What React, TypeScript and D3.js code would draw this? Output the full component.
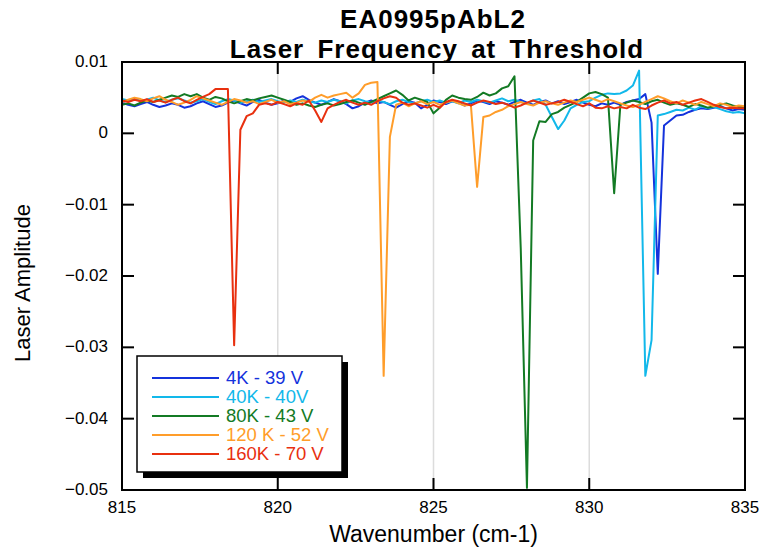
import React from "react";
import * as d3 from "d3";

const xStart = 815;
const xStep = 0.2;

const seriesNames = ["4K - 39 V", "40K - 40V", "80K - 43 V", "120 K - 52 V", "160K - 70 V"];
const seriesColors = ["#1432dc", "#12b8ea", "#137a24", "#ff9d2a", "#e8300f"];

const blue4K = [
  0.0043, 0.0040, 0.0038, 0.0041, 0.0044, 0.0040, 0.0037, 0.0039, 0.0042, 0.0040,
  0.0036, 0.0038, 0.0042, 0.0045, 0.0041, 0.0037, 0.0039, 0.0043, 0.0046, 0.0042,
  0.0039, 0.0044, 0.0047, 0.0043, 0.0040, 0.0042, 0.0046, 0.0044, 0.0049, 0.0052,
  0.0047, 0.0043, 0.0040, 0.0044, 0.0048, 0.0045, 0.0041, 0.0035, 0.0038, 0.0043,
  0.0046, 0.0042, 0.0044, 0.0040, 0.0036, 0.0041, 0.0045, 0.0043, 0.0035, 0.0040,
  0.0046, 0.0044, 0.0041, 0.0045, 0.0043, 0.0039, 0.0042, 0.0046, 0.0044, 0.0041,
  0.0045, 0.0043, 0.0040, 0.0044, 0.0047, 0.0043, 0.0040, 0.0044, 0.0046, 0.0042,
  0.0045, 0.0041, 0.0044, 0.0047, 0.0043, 0.0040, 0.0038, 0.0042, 0.0040, 0.0043,
  0.0040, 0.0044, 0.0046, 0.0048, 0.0055, 0.0015, -0.0197, 0.0011, 0.0018, 0.0025,
  0.0026, 0.0030, 0.0033, 0.0035, 0.0034, 0.0036, 0.0038, 0.0035, 0.0032, 0.0034,
  0.0033,
];

const cyan40K = [
  0.0048, 0.0046, 0.0049, 0.0045, 0.0047, 0.0050, 0.0046, 0.0044, 0.0047, 0.0049,
  0.0046, 0.0043, 0.0045, 0.0048, 0.0044, 0.0041, 0.0045, 0.0048, 0.0046, 0.0043,
  0.0045, 0.0047, 0.0044, 0.0046, 0.0048, 0.0045, 0.0043, 0.0046, 0.0044, 0.0047,
  0.0045, 0.0043, 0.0046, 0.0044, 0.0047, 0.0045, 0.0042, 0.0046, 0.0048, 0.0045,
  0.0043, 0.0046, 0.0044, 0.0041, 0.0045, 0.0047, 0.0044, 0.0042, 0.0045, 0.0047,
  0.0044, 0.0046, 0.0043, 0.0045, 0.0042, 0.0046, 0.0044, 0.0047, 0.0045, 0.0043,
  0.0046, 0.0049, 0.0045, 0.0047, 0.0044, 0.0042, 0.0046, 0.0048, 0.0040, 0.0023,
  0.0006, 0.0018, 0.0035, 0.0040, 0.0044, 0.0045, 0.0050, 0.0054, 0.0056, 0.0055,
  0.0056, 0.0060, 0.0067, 0.0088, -0.0340, -0.0290, 0.0025, 0.0027, 0.0030, 0.0033,
  0.0032, 0.0036, 0.0033, 0.0038, 0.0035, 0.0037, 0.0034, 0.0031, 0.0029, 0.0030,
  0.0028,
];

const green80K = [
  0.0040, 0.0042, 0.0039, 0.0043, 0.0046, 0.0044, 0.0047, 0.0050, 0.0053, 0.0051,
  0.0055, 0.0052, 0.0055, 0.0050, 0.0047, 0.0051, 0.0049, 0.0045, 0.0042, 0.0045,
  0.0048, 0.0046, 0.0049, 0.0051, 0.0053, 0.0050, 0.0047, 0.0044, 0.0040, 0.0042,
  0.0039, 0.0037, 0.0040, 0.0042, 0.0039, 0.0041, 0.0044, 0.0046, 0.0043, 0.0040,
  0.0044, 0.0048, 0.0052, 0.0056, 0.0060, 0.0054, 0.0046, 0.0050, 0.0047, 0.0044,
  0.0028, 0.0036, 0.0047, 0.0053, 0.0050, 0.0048, 0.0047, 0.0051, 0.0057, 0.0053,
  0.0056, 0.0063, 0.0066, 0.0080, -0.0160, -0.0497, -0.0010, 0.0017, 0.0016, 0.0027,
  0.0030, 0.0036, 0.0040, 0.0044, 0.0050, 0.0056, 0.0058, 0.0055, 0.0050, -0.0084,
  0.0040, 0.0043, 0.0046, 0.0044, 0.0041, 0.0045, 0.0047, 0.0043, 0.0040, 0.0042,
  0.0040, 0.0037, 0.0041, 0.0039, 0.0036, 0.0038, 0.0040, 0.0042, 0.0039, 0.0037,
  0.0037,
];

const orange120K = [
  0.0044, 0.0047, 0.0050, 0.0048, 0.0045, 0.0049, 0.0052, 0.0047, 0.0044, 0.0040,
  0.0043, 0.0047, 0.0052, 0.0049, 0.0046, 0.0043, 0.0040, 0.0044, 0.0048, 0.0046,
  0.0043, 0.0045, 0.0041, 0.0044, 0.0047, 0.0043, 0.0045, 0.0041, 0.0043, 0.0046,
  0.0044, 0.0050, 0.0054, 0.0050, 0.0053, 0.0055, 0.0057, 0.0050, 0.0056, 0.0068,
  0.0071, 0.0072, -0.0340, -0.0005, 0.0040, 0.0043, 0.0038, 0.0042, 0.0045, 0.0041,
  0.0044, 0.0040, 0.0043, 0.0046, 0.0042, 0.0039, 0.0040, -0.0075, 0.0023, 0.0025,
  0.0030, 0.0033, 0.0038, 0.0041, 0.0044, 0.0041, 0.0039, 0.0043, 0.0045, 0.0042,
  0.0040, 0.0043, 0.0046, 0.0044, 0.0047, 0.0050, 0.0047, 0.0044, 0.0048, 0.0045,
  0.0042, 0.0039, 0.0037, 0.0040, 0.0044, 0.0048, 0.0052, 0.0049, 0.0045, 0.0042,
  0.0046, 0.0043, 0.0040, 0.0044, 0.0041, 0.0038, 0.0042, 0.0040, 0.0037, 0.0039,
  0.0038,
];

const red160K = [
  0.0046, 0.0044, 0.0047, 0.0045, 0.0048, 0.0044, 0.0046, 0.0043, 0.0047, 0.0050,
  0.0045, 0.0042, 0.0047, 0.0051, 0.0055, 0.0062, 0.0062, 0.0062, -0.0297, 0.0005,
  0.0024, 0.0028, 0.0040, 0.0042, 0.0040, 0.0044, 0.0041, 0.0038, 0.0042, 0.0040,
  0.0046, 0.0032, 0.0016, 0.0035, 0.0040, 0.0044, 0.0047, 0.0043, 0.0040, 0.0043,
  0.0040, 0.0045, 0.0049, 0.0052, 0.0050, 0.0043, 0.0040, 0.0042, 0.0039, 0.0036,
  0.0040, 0.0036, 0.0044, 0.0047, 0.0045, 0.0042, 0.0039, 0.0043, 0.0046, 0.0044,
  0.0041, 0.0043, 0.0040, 0.0036, 0.0039, 0.0043, 0.0046, 0.0043, 0.0040, 0.0042,
  0.0044, 0.0047, 0.0044, 0.0041, 0.0038, 0.0042, 0.0036, 0.0035, 0.0038, 0.0035,
  0.0037, 0.0035, 0.0040, 0.0036, 0.0034, 0.0039, 0.0043, 0.0046, 0.0042, 0.0044,
  0.0040, 0.0043, 0.0046, 0.0048, 0.0044, 0.0040, 0.0037, 0.0035, 0.0036, 0.0035,
  0.0035,
];

const seriesValues = [blue4K, cyan40K, green80K, orange120K, red160K];

const xTicks = [815, 820, 825, 830, 835];
const yTicks = [0.01, 0, -0.01, -0.02, -0.03, -0.04, -0.05];
const gridX = [820, 825, 830];

const titleLines = ["EA0995pAbL2", "Laser Frequency at Threshold"];
const xLabel = "Wavenumber (cm-1)";
const yLabel = "Laser Amplitude";

const W = 761;
const H = 550;
const M = { left: 122, right: 745, top: 62, bottom: 490 };
const FONT = "'Liberation Sans', Arial, Helvetica, sans-serif";

export default function App() {
  const x = d3.scaleLinear().domain([815, 835]).range([M.left, M.right]);
  const y = d3.scaleLinear().domain([-0.05, 0.01]).range([M.bottom, M.top]);
  const line = d3
    .line<number>()
    .x((_, i) => x(xStart + i * xStep))
    .y((d) => y(d));
  const tick = 12;
  const lg = { x: 137, y: 356, w: 205, h: 116 };

  return (
    <svg width={W} height={H} style={{ position: "absolute", left: 0, top: 0, background: "#fff" }} fontFamily={FONT}>
      <rect x={0} y={0} width={W} height={H} fill="#fff" />
      {gridX.map((g) => (
        <line key={g} x1={x(g)} x2={x(g)} y1={M.top} y2={M.bottom} stroke="#dcdcdc" strokeWidth={1.5} />
      ))}
      <defs>
        <clipPath id="plotclip">
          <rect x={M.left} y={M.top} width={M.right - M.left} height={M.bottom - M.top + 1} />
        </clipPath>
      </defs>
      <g clipPath="url(#plotclip)">
        {seriesValues.map((vals, k) => (
          <path key={k} d={line(vals) || ""} fill="none" stroke={seriesColors[k]} strokeWidth={2} strokeLinejoin="round" />
        ))}
      </g>
      {xTicks.map((t) => (
        <g key={t}>
          <line x1={x(t)} x2={x(t)} y1={M.bottom} y2={M.bottom - tick} stroke="#000" strokeWidth={2} />
          <line x1={x(t)} x2={x(t)} y1={M.top} y2={M.top + tick} stroke="#000" strokeWidth={2} />
          <text x={x(t)} y={513} textAnchor="middle" fontSize={17}>{t}</text>
        </g>
      ))}
      {yTicks.map((t) => (
        <g key={t}>
          <line x1={M.left} x2={M.left + tick} y1={y(t)} y2={y(t)} stroke="#000" strokeWidth={2} />
          <line x1={M.right} x2={M.right - tick} y1={y(t)} y2={y(t)} stroke="#000" strokeWidth={2} />
          <text x={108} y={y(t)} dy="0.3em" textAnchor="end" fontSize={17}>{t === 0 ? "0" : d3.format(".2f")(t)}</text>
        </g>
      ))}
      <rect x={M.left} y={M.top} width={M.right - M.left} height={M.bottom - M.top} fill="none" stroke="#000" strokeWidth={2} />
      <rect x={lg.x + 6} y={lg.y + 6} width={lg.w} height={lg.h} fill="#000" />
      <rect x={lg.x} y={lg.y} width={lg.w} height={lg.h} fill="#fff" stroke="#000" strokeWidth={1.5} />
      {seriesNames.map((n, k) => (
        <g key={n}>
          <line x1={152} x2={219} y1={378 + k * 19} y2={378 + k * 19} stroke={seriesColors[k]} strokeWidth={2} />
          <text x={226} y={378 + k * 19} dy="0.35em" fontSize={18.5} fill={seriesColors[k]}>{n}</text>
        </g>
      ))}
      <text x={433} y={28} textAnchor="middle" fontSize={26} fontWeight="bold" style={{ letterSpacing: "1px" }}>{titleLines[0]}</text>
      <text x={437} y={57.5} textAnchor="middle" fontSize={26} fontWeight="bold" style={{ letterSpacing: "1px", wordSpacing: "5px" }}>{titleLines[1]}</text>
      <text x={(M.left + M.right) / 2} y={542} textAnchor="middle" fontSize={23}>{xLabel}</text>
      <text transform={`translate(30,283) rotate(-90)`} textAnchor="middle" fontSize={22}>{yLabel}</text>
    </svg>
  );
}
